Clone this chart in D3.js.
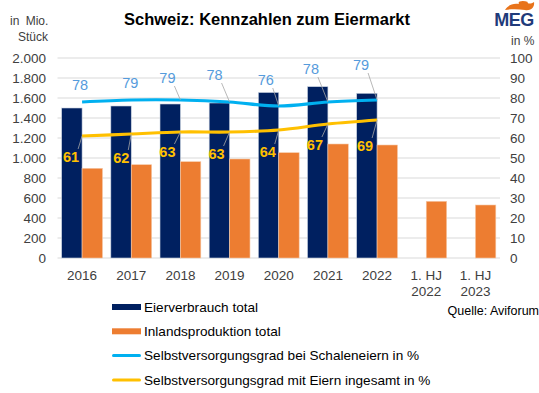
<!DOCTYPE html>
<html>
<head>
<meta charset="utf-8">
<script src="https://cdn.jsdelivr.net/npm/d3@7"></script>
<style>
body{margin:0;background:#fff;}
svg{font-family:"Liberation Sans",Arial,sans-serif;}
</style>
</head>
<body>
<svg id="svg" width="539" height="393"></svg>
<script>
// data
var categories=["2016","2017","2018","2019","2020","2021","2022","1. HJ|2022","1. HJ|2023"];
var verbrauch=[1500,1520,1540,1550,1655,1713,1647,null,null];
var produktion=[897,933,963,990,1053,1140,1130,567,530];
var schaleneier=[78,79,79,78,76,78,79];
var ingesamt=[61,62,63,63,64,67,69];
var leftTicks=[0,200,400,600,800,1000,1200,1400,1600,1800,2000];
var rightTicks=[0,10,20,30,40,50,60,70,80,90,100];

// label placement (offsets from the point, like the hand-moved excel labels)
var blueOff=[[-2,-17],[-1,-17],[-13,-22],[-15,-27],[-13,-26],[-17,-33],[-16,-35]];
var yellowOff=[[-11,21],[-10,24],[-13,20],[-13,22],[-11,22],[-13,21],[-12,26]];

var navy="#002060",orange="#ed7d31",blue="#00b0f0",yellow="#ffc000";

var svg=d3.select("#svg");
var pLeft=57.5,pRight=500,pTop=58,pBottom=258;

var x=d3.scaleBand().domain(categories).range([pLeft,pRight]).paddingInner(0.17).paddingOuter(0.085);
var xs=d3.scaleBand().domain([0,1]).range([0,x.bandwidth()]);
var yL=d3.scaleLinear().domain([0,2000]).range([pBottom,pTop]);
var yR=d3.scaleLinear().domain([0,100]).range([pBottom,pTop]);
var cx=function(i){return x(categories[i])+x.bandwidth()/2};

// gridlines
svg.append("g").selectAll("line").data(leftTicks).enter().append("line")
  .attr("x1",pLeft).attr("x2",pRight)
  .attr("y1",function(d){return yL(d)}).attr("y2",function(d){return yL(d)})
  .attr("stroke","#d9d9d9").attr("stroke-width",1);

// left axis
var axL=svg.append("g").attr("transform","translate(46,0)")
  .call(d3.axisLeft(yL).tickValues(leftTicks).tickSize(0).tickPadding(0)
    .tickFormat(function(d){return d3.format(",")(d).replace(/,/g,".")}));
axL.select(".domain").remove();
axL.selectAll("text").attr("font-size","13.5px").attr("fill","#404040").attr("font-family","Liberation Sans, Arial");

// right axis
var axR=svg.append("g").attr("transform","translate(510,0)")
  .call(d3.axisRight(yR).tickValues(rightTicks).tickSize(0).tickPadding(0));
axR.select(".domain").remove();
axR.selectAll("text").attr("font-size","13.5px").attr("fill","#404040").attr("font-family","Liberation Sans, Arial");

// bars
var g=svg.append("g");
g.selectAll(".b1").data(verbrauch).enter().filter(function(d){return d!=null}).append("rect")
  .attr("x",function(d){return x(categories[verbrauch.indexOf(d)])+xs(0)})
  .attr("width",xs.bandwidth())
  .attr("y",function(d){return yL(d)})
  .attr("height",function(d){return pBottom-yL(d)})
  .attr("fill",navy).attr("stroke","#c9d2e0").attr("stroke-width",0.6);
g.selectAll(".b2").data(produktion).enter().append("rect")
  .attr("x",function(d,i){return x(categories[i])+xs(1)})
  .attr("width",xs.bandwidth())
  .attr("y",function(d){return yL(d)})
  .attr("height",function(d){return pBottom-yL(d)})
  .attr("fill",orange).attr("stroke","#f6c9a8").attr("stroke-width",0.6);

// x labels
var xl=svg.append("g").selectAll("text").data(categories).enter().append("text")
  .attr("text-anchor","middle").attr("font-size","13.5px").attr("fill","#404040")
  .attr("x",function(d){return x(d)+x.bandwidth()/2});
xl.each(function(d){
  var t=d3.select(this);
  d.split("|").forEach(function(s,k){
    t.append("tspan").attr("x",t.attr("x")).attr("y",280+k*15.5).text(s);
  });
});

// lines
var line=function(ys){return d3.line().x(function(d,i){return cx(i)}).y(function(d){return ys(d)}).curve(d3.curveCatmullRom.alpha(0.5))};
svg.append("path").datum(schaleneier).attr("d",line(yR)).attr("fill","none").attr("stroke",blue).attr("stroke-width",3.2);
svg.append("path").datum(ingesamt).attr("d",line(yR)).attr("fill","none").attr("stroke",yellow).attr("stroke-width",3.2);

// data labels with leader lines
function labels(vals,off,col,bold){
  var lg=svg.append("g");
  vals.forEach(function(v,i){
    var px=cx(i),py=yR(v),lx=px+off[i][0],ly=py+off[i][1];
    var dist=Math.sqrt(off[i][0]*off[i][0]+off[i][1]*off[i][1]);
    if(dist>19){
      var sy=off[i][1]<0?ly+8:ly-8;
      lg.append("line").attr("x1",lx+7).attr("y1",sy).attr("x2",px).attr("y2",py)
        .attr("stroke","#a6a6a6").attr("stroke-width",0.8);
    }
    lg.append("text").attr("x",lx).attr("y",ly).attr("dy","0.35em")
      .attr("text-anchor","middle").attr("font-size","14.5px")
      .attr("font-weight",bold?"bold":"normal").attr("fill",col).text(v);
  });
}
labels(schaleneier,blueOff,"#559bdc",false);
labels(ingesamt,yellowOff,"#ffc000",true);

// title and axis titles
svg.append("text").attr("x",267).attr("y",25).attr("text-anchor","middle")
  .attr("font-size","16.5px").attr("font-weight","bold").attr("fill","#000")
  .text("Schweiz: Kennzahlen zum Eiermarkt");
svg.append("text").attr("x",10).attr("y",25).attr("font-size","12px").attr("fill","#404040").attr("word-spacing","3px").text("in Mio.");
svg.append("text").attr("x",48).attr("y",41).attr("text-anchor","end").attr("font-size","12px").attr("fill","#404040").text("Stück");
svg.append("text").attr("x",511).attr("y",45).attr("font-size","12px").attr("fill","#404040").text("in %");

// logo
svg.append("path").attr("d","M505,10 C508,5 513,3 519,4 C517,1 523,0 528,2 C526,3 530,5 534,2 C535,8 530,11 525,10 C518,9 511,9 505,10 Z").attr("fill","#e8731a");
svg.append("text").attr("x",514).attr("y",26).attr("text-anchor","middle").attr("font-size","18px")
  .attr("font-weight","bold").attr("fill","#1f3b7a").attr("letter-spacing","-0.5px").text("MEG");

// legend
var legItems=[
  {name:"Eierverbrauch total",col:navy,h:6},
  {name:"Inlandsproduktion total",col:orange,h:6},
  {name:"Selbstversorgungsgrad bei Schaleneiern in %",col:blue,h:3},
  {name:"Selbstversorgungsgrad mit Eiern ingesamt in %",col:yellow,h:3}
];
var lg=svg.append("g").selectAll("g").data(legItems).enter().append("g")
  .attr("transform",function(d,i){return "translate(112,"+(307+i*24.3)+")"});
lg.append("rect").attr("x",0).attr("y",function(d){return -d.h/2}).attr("width",29).attr("height",function(d){return d.h})
  .attr("rx",function(d){return d.h==3?1.5:0}).attr("fill",function(d){return d.col});
lg.append("text").attr("x",32).attr("dy","0.35em").attr("font-size","13.6px").attr("fill","#000").text(function(d){return d.name});

svg.append("text").attr("x",539).attr("y",315).attr("text-anchor","end").attr("font-size","12.5px").attr("fill","#000").text("Quelle: Aviforum");
</script>
</body>
</html>
